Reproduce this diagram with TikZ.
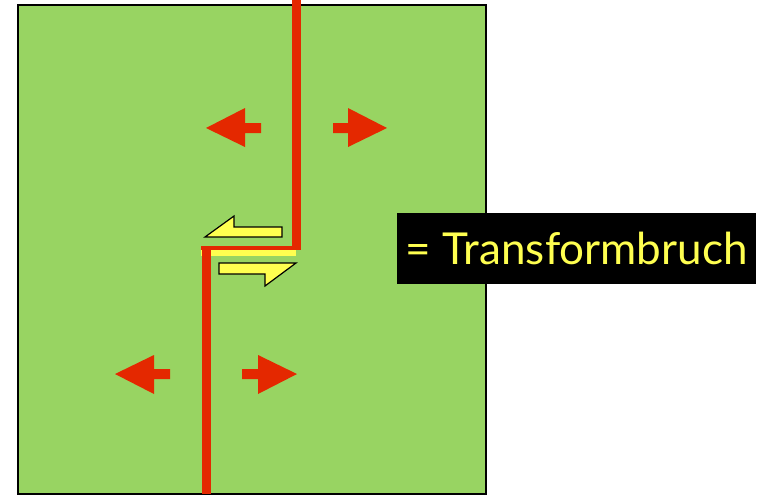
\documentclass[tikz,border=0pt]{standalone}
\usepackage{fontspec}
\setmainfont{Lato}
\definecolor{plate}{HTML}{98D462}
\definecolor{rift}{HTML}{E42800}
\definecolor{shear}{HTML}{FFFF50}
\begin{document}
\begin{tikzpicture}[x=1pt,y=-1pt,
  redarrow/.style={fill=rift,draw=none},
  yelarrow/.style={fill=shear,draw=black,line width=1.2pt,line join=miter},
  riftline/.style={draw=rift,line width=9pt}]
\useasboundingbox (0,0) rectangle (761,496);
\fill[white] (0,0) rectangle (761,496);
% plate
\draw[fill=plate,draw=black,line width=1.6pt] (18,5) rectangle (486,494);
% rift lines
\draw[riftline] (296,0) -- (296,247.5);
\draw[draw=rift,line width=4pt] (201,247.5) -- (301,247.5);
\fill[shear] (201,249.5) rectangle (296,256);
\draw[riftline] (206,246) -- (206,494);
% red spreading arrows
\fill[redarrow] (206,128) -- (245,108) -- (245,123) -- (261,123) -- (261,133) -- (245,133) -- (245,147) -- cycle;
\fill[redarrow] (387,128) -- (348,108) -- (348,123) -- (333,123) -- (333,133) -- (348,133) -- (348,147) -- cycle;
\fill[redarrow] (115,374) -- (154,355) -- (154,369) -- (170,369) -- (170,379) -- (154,379) -- (154,394) -- cycle;
\fill[redarrow] (297,374) -- (258,355) -- (258,369) -- (242,369) -- (242,379) -- (258,379) -- (258,394) -- cycle;
% yellow shear arrows
\draw[yelarrow] (205,237) -- (234,216) -- (234,227) -- (282,227) -- (282,237) -- cycle;
\draw[yelarrow] (296,263) -- (265,286) -- (265,274) -- (219,274) -- (219,263) -- cycle;
% label
\node[fill=black,text=shear,inner sep=0pt,minimum width=359pt,minimum height=71pt,anchor=north west,font=\fontsize{44}{44}\selectfont] (label) at (397,213) {= Transformbruch};
\end{tikzpicture}
\end{document}
